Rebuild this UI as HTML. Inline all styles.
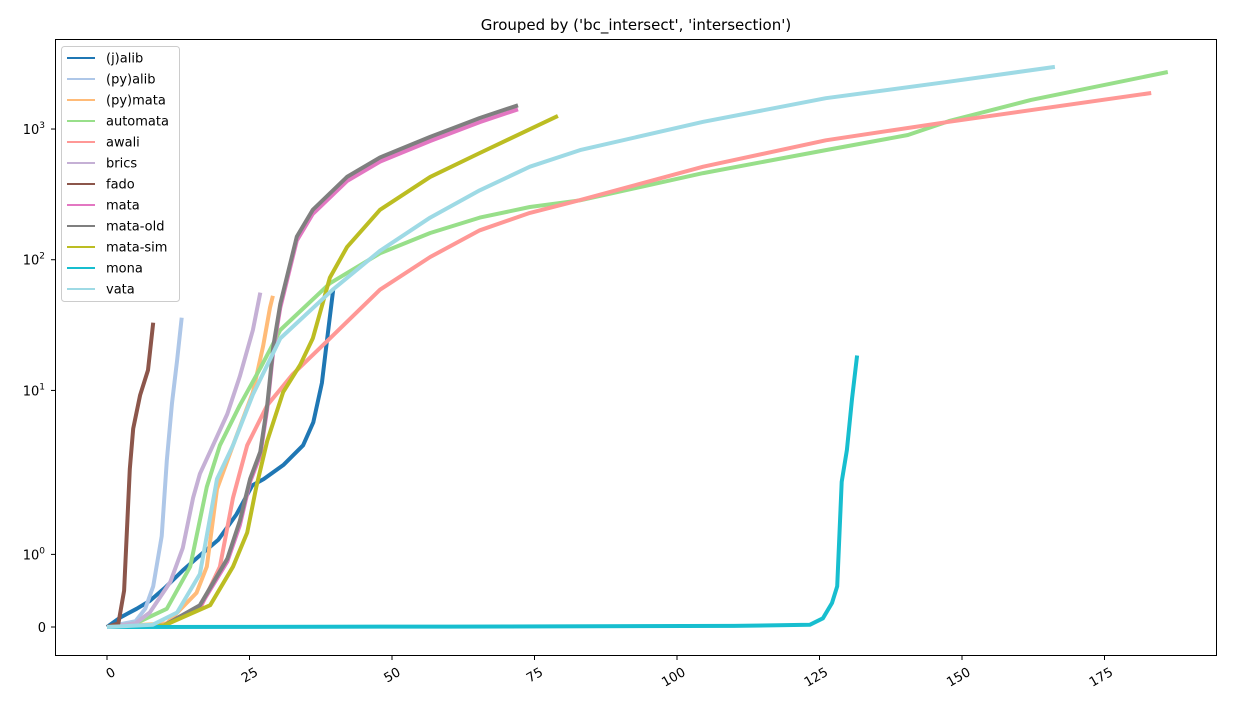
<!DOCTYPE html>
<html><head><meta charset="utf-8"><style>
body{margin:0;background:#fff;}
svg{display:block;font-family:"DejaVu Sans","Liberation Sans",sans-serif;}
</style></head><body>
<svg id="chart" width="1237" height="710">
<text x="636" y="30" text-anchor="middle" font-size="15">Grouped by ('bc_intersect', 'intersection')</text>
<g id="series"></g>
<rect x="55.5" y="39.5" width="1161" height="616" fill="none" stroke="#000" stroke-width="1"/>
<g id="xaxis"></g>
<g id="yaxis"></g>
<g id="legend"></g>
</svg>
<script>
const seriesNames = ["(j)alib","(py)alib","(py)mata","automata","awali","brics","fado","mata","mata-old","mata-sim","mona","vata"];
const seriesColors = ["#1f77b4","#aec7e8","#ffbb78","#98df8a","#ff9896","#c5b0d5","#8c564b","#e377c2","#7f7f7f","#bcbd22","#17becf","#9edae5"];
const xJalib = [0,2.3,5.2,7.5,10.3,13.3,16.5,19.5,22.7,25.5,27.5,31,34.4,36.2,37.7,38.5,39.7];
const yJalib = [0,0.13,0.25,0.36,0.55,0.78,1.0,1.2,1.55,1.95,2.1,2.7,3.8,5.7,11.4,22.5,60];
const xPyalib = [0,5,6.7,8.1,9.6,10.5,11.4,12.3,13.1];
const yPyalib = [0,0.08,0.25,0.56,1.25,2.9,8,17,36];
const xPymata = [0,10.5,15.7,17.5,19.3,22.1,25.6,27.4,28.6,29.1];
const yPymata = [0,0.05,0.47,0.83,1.9,3.8,9.7,22,43,53];
const xAutomata = [0,5,10.5,14.6,17.5,19.8,23.3,26.9,30.4,39.1,47.9,56.7,65.4,74.2,83,104.6,126.1,140.5,147.7,162.1,186.1];
const yAutomata = [0,0.05,0.25,0.83,1.93,3.8,7.7,14.8,29,66,112,160,210,253,285,460,690,900,1150,1670,2730];
const xAwali = [0,10,16.3,19.8,22.1,24.6,28.1,32.6,39.1,47.9,56.7,65.4,74.2,83,104.6,126.1,147.7,183.2];
const yAwali = [0,0.02,0.25,0.83,1.78,3.8,7.7,13.3,25,59,105,168,228,286,515,820,1135,1885];
const xBrics = [0,5,7.5,11.1,13.3,15.1,16.3,18.6,21.1,23.3,25.6,26.9];
const yBrics = [0,0.05,0.2,0.62,1.09,1.78,2.3,3.8,6.6,12.8,29,56];
const xFado = [0,2,3,4,4.6,5.8,7.2,8.1];
const yFado = [0,0.05,0.5,2.5,5.1,9.2,14.3,33];
const xMata = [0,10,16.3,21.1,23.3,25.1,26.9,28.1,29.2,30.4,33.3,36.1,42.1,47.9,56.7,65.4,72.1];
const yMata = [0,0.02,0.28,0.9,1.4,2.0,3.2,7.2,20.5,43,140,224,400,563,810,1130,1415];
const xMataOld = [0,10,16.3,21.1,23.3,25.1,26.9,28.1,29.2,30.4,33.3,36.1,42.1,47.9,56.7,65.4,72.1];
const yMataOld = [0,0.02,0.3,0.94,1.46,2.1,3.4,7.7,22,46,150,241,430,605,870,1215,1520];
const xMataSim = [0,10,18.1,22.1,24.6,26.2,28.1,30.9,33.9,36.1,39.1,42.1,47.9,56.7,65.4,79.1];
const yMataSim = [0,0.02,0.3,0.83,1.3,1.93,4.1,9.7,15.7,25,73,125,241,430,655,1260];
const xMona = [0,60,110,123.3,125.6,127.2,128.1,128.9,129.8,130.7,131.6];
const yMona = [0,0.005,0.015,0.03,0.12,0.33,0.56,2.0,3.5,8.6,18.5];
const xVata = [0,8,12.3,16.3,19.3,22.1,25.6,30.4,39.6,47.9,56.7,65.4,74.2,83,104.6,126.1,147.7,166.3];
const yVata = [0,0.03,0.2,0.73,2.1,3.8,9.3,25,59,117,210,340,515,690,1135,1720,2300,2990];
const xTicks = [0,25,50,75,100,125,150,175];
const yTickVals = [0,1,10,100,1000];
const yTickExp = ["","0","1","2","3"];

const allX = [xJalib,xPyalib,xPymata,xAutomata,xAwali,xBrics,xFado,xMata,xMataOld,xMataSim,xMona,xVata];
const allY = [yJalib,yPyalib,yPymata,yAutomata,yAwali,yBrics,yFado,yMata,yMataOld,yMataSim,yMona,yVata];
const NS="http://www.w3.org/2000/svg";
function sx(v){return 107+v*5.7;}
function sy(v){const t=2,la=1/(1-0.1);let u=v<=t? v*la : t*(la+Math.log10(v/t));return 627-u*65.35;}
function mk(tag,attrs,parent){const e=document.createElementNS(NS,tag);for(const k in attrs)e.setAttribute(k,attrs[k]);parent.appendChild(e);return e;}

const sg=document.getElementById('series');
allX.forEach((xs,i)=>{
  const d=xs.map((x,j)=>(j?'L':'M')+sx(x).toFixed(1)+','+sy(allY[i][j]).toFixed(1)).join(' ');
  const p=mk('path',{d:d,fill:'none',stroke:seriesColors[i],'stroke-width':4,'stroke-linejoin':'round'},sg);
  
  
});

const xg=document.getElementById('xaxis');
xTicks.forEach(v=>{
  const x=sx(v);
  const t=mk('line',{x1:x,x2:x,y1:655.5,y2:660,stroke:'#000'},xg);
  
  
  const l=mk('text',{x:0,y:0,'font-size':13,'text-anchor':'end',transform:`translate(${x+5},${667}) rotate(-30)`,'dominant-baseline':'hanging'},xg);
  l.textContent=String(v);
  
  
});
const yg=document.getElementById('yaxis');
yTickVals.forEach((v,i)=>{
  const y=sy(v);
  const t=mk('line',{x1:51,x2:55.5,y1:y,y2:y,stroke:'#000'},yg);
  
  
  const l=mk('text',{x:i?45:46,y:y+5,'font-size':13,'text-anchor':'end'},yg);
  if(i===0){l.textContent='0';}
  else{l.textContent='10';const s=mk('tspan',{dy:-6,'font-size':9},l);s.textContent=yTickExp[i];}
  
  
});

const lg=document.getElementById('legend');
const box=mk('rect',{x:61.5,y:46.5,width:118,height:255,rx:3,fill:'#fff','fill-opacity':0.8,stroke:'#ccc'},lg);


seriesNames.forEach((n,i)=>{
  const y=58+i*21;
  const g=mk('g',{},lg);
  
  
  mk('line',{x1:67,x2:95,y1:y,y2:y,stroke:seriesColors[i],'stroke-width':2},g);
  const t=mk('text',{x:106,y:y+4.5,'font-size':13},g);
  t.textContent=n;
});
</script>
</body></html>
